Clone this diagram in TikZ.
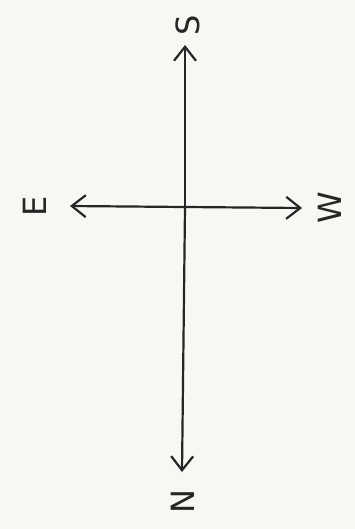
\documentclass[tikz,border=0pt]{standalone}
\usepackage{fontspec}
\setmainfont{DejaVu Sans}
\usetikzlibrary{arrows.meta}
\definecolor{paper}{HTML}{F7F7F4}
\definecolor{ink}{HTML}{262626}
\begin{document}
\begin{tikzpicture}[x=1pt,y=-1pt,
  axis/.style={line width=2.2pt, draw=ink, -{Straight Barb[length=14pt,width=22pt,line width=2.2pt]}},
  lbl/.style={rotate=90, font=\fontsize{32}{32}\selectfont, text=ink, inner sep=0pt}]
\fill[paper] (0,0) rectangle (355,529);
\useasboundingbox (0,0) rectangle (355,529);
\coordinate (c) at (185,207);
\coordinate (s) at (185,45);
\coordinate (n) at (182,472);
\coordinate (e) at (70,206);
\coordinate (w) at (302,208);
\draw[axis] (c) -- (s);
\draw[axis] (c) -- (n);
\draw[axis] (c) -- (e);
\draw[axis] (c) -- (w);
\node[lbl] (S) at (188,25) {S};
\node[lbl] (E) at (35,206) {E};
\node[lbl] (W) at (330,208) {W};
\node[lbl] (N) at (183,502) {N};
\end{tikzpicture}
\end{document}
